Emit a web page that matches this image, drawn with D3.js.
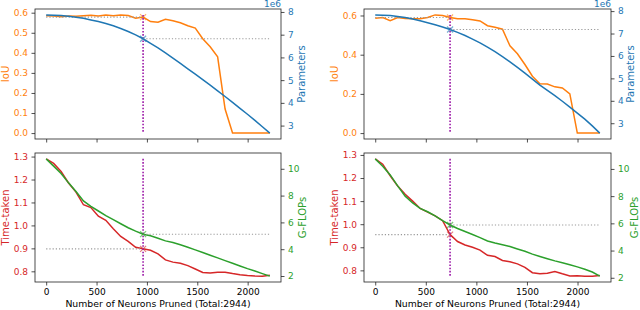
<!DOCTYPE html>
<html>
<head>
<meta charset="utf-8">
<script src="https://cdn.jsdelivr.net/npm/d3@7"></script>
<style>
  body { margin: 0; background: #fff; }
  svg { display: block; font-family: "DejaVu Sans", sans-serif; }
</style>
</head>
<body>
<div id="chart"></div>
<script>
// neurons pruned at each step (same for both runs)
var pruned = [0, 74, 148, 222, 296, 370, 444, 518, 592, 666, 740, 814, 888, 962, 1036, 1110,
  1184, 1258, 1332, 1406, 1480, 1554, 1628, 1702, 1776, 1850, 1924, 1998, 2072, 2146, 2220];

// run A (left column), chosen point at index 13
var iouA = [0.585, 0.583, 0.580, 0.584, 0.582, 0.585, 0.587, 0.584, 0.588, 0.585, 0.589, 0.586, 0.572,
  0.578, 0.556, 0.553, 0.567, 0.560, 0.550, 0.535, 0.523, 0.470, 0.430, 0.380, 0.120, 0.0, 0.0, 0.0, 0.0, 0.0, 0.0];
var paramsA = [7.87, 7.86, 7.84, 7.81, 7.77, 7.72, 7.65, 7.58, 7.49, 7.39, 7.27, 7.14, 6.99, 6.82, 6.62,
  6.42, 6.20, 5.97, 5.74, 5.50, 5.26, 5.02, 4.78, 4.53, 4.28, 4.02, 3.76, 3.50, 3.23, 2.95, 2.67]; // x1e6
var timeA = [1.290, 1.270, 1.235, 1.185, 1.145, 1.090, 1.078, 1.040, 1.022, 0.985, 0.952, 0.930, 0.905,
  0.898, 0.892, 0.876, 0.850, 0.840, 0.835, 0.825, 0.810, 0.795, 0.793, 0.796, 0.796, 0.790, 0.785,
  0.782, 0.780, 0.779, 0.783];
var flopsA = [10.74, 10.2, 9.65, 8.95, 8.3, 7.6, 7.2, 6.85, 6.5, 6.2, 5.9, 5.6, 5.35, 5.12, 5.0, 4.82,
  4.62, 4.5, 4.33, 4.15, 3.95, 3.75, 3.55, 3.35, 3.15, 2.95, 2.75, 2.55, 2.37, 2.18, 1.99];

// run B (right column), chosen point at index 10
var iouB = [0.586, 0.590, 0.574, 0.590, 0.585, 0.583, 0.583, 0.590, 0.603, 0.600, 0.590, 0.583, 0.583,
  0.578, 0.572, 0.548, 0.540, 0.530, 0.445, 0.405, 0.350, 0.290, 0.252, 0.250, 0.236, 0.230, 0.200,
  0.0, 0.0, 0.0, 0.0];
var paramsB = [7.83, 7.82, 7.80, 7.76, 7.71, 7.65, 7.57, 7.48, 7.39, 7.29, 7.18, 7.05, 6.91, 6.75, 6.58,
  6.39, 6.19, 5.97, 5.74, 5.49, 5.23, 4.97, 4.70, 4.46, 4.23, 3.98, 3.72, 3.45, 3.18, 2.88, 2.56];
var timeB = [1.283, 1.260, 1.210, 1.165, 1.130, 1.100, 1.068, 1.052, 1.036, 1.015, 0.955, 0.925, 0.910,
  0.900, 0.888, 0.865, 0.860, 0.843, 0.837, 0.828, 0.813, 0.790, 0.785, 0.788, 0.795, 0.785, 0.776,
  0.777, 0.775, 0.775, 0.778];
var flopsB = [10.74, 10.2, 9.56, 8.75, 8.0, 7.5, 7.1, 6.85, 6.55, 6.2, 5.88, 5.62, 5.4, 5.18, 4.95, 4.7,
  4.55, 4.43, 4.3, 4.12, 3.95, 3.74, 3.57, 3.4, 3.24, 3.1, 2.95, 2.8, 2.63, 2.42, 2.12];

var xTicks = [0, 500, 1000, 1500, 2000];
var iouTicksA = [0, 0.1, 0.2, 0.3, 0.4, 0.5, 0.6];
var iouTicksB = [0, 0.2, 0.4, 0.6];
var paramTicks = [3, 4, 5, 6, 7, 8];
var timeTicks = [0.8, 0.9, 1.0, 1.1, 1.2, 1.3];
var flopTicks = [2, 4, 6, 8, 10];

var width = 640, height = 310;
var orange = "#ff7f0e", blue = "#1f77b4", red = "#d62728", green = "#2ca02c";

var svg = d3.select("#chart").append("svg")
    .attr("width", width)
    .attr("height", height);

// matplotlib style 5% padding
function pad(ext) {
  var m = (ext[1] - ext[0]) * 0.05;
  return [ext[0] - m, ext[1] + m];
}

function panel(c) {
  var g = svg.append("g");
  var x = d3.scaleLinear().domain(pad(d3.extent(pruned))).range([c.x0, c.x1]);
  var yL = d3.scaleLinear().domain(pad(d3.extent(c.left))).range([c.y1, c.y0]);
  var yR = d3.scaleLinear().domain(pad(d3.extent(c.right))).range([c.y1, c.y0]);
  var k = c.cut, xc = pruned[k], xmax = d3.max(pruned);

  // axes
  g.append("g")
      .attr("transform", "translate(0," + c.y1 + ")")
      .call(d3.axisBottom(x).tickValues(xTicks).tickSize(3.5).tickSizeOuter(0).tickPadding(3)
        .tickFormat(c.xLabels ? d3.format("d") : ""));
  var al = g.append("g")
      .attr("transform", "translate(" + c.x0 + ",0)")
      .call(d3.axisLeft(yL).tickValues(c.leftTicks).tickSize(3.5).tickSizeOuter(0).tickPadding(3.5)
        .tickFormat(d3.format(".1f")));
  al.selectAll("text").attr("fill", c.leftColor);
  var ar = g.append("g")
      .attr("transform", "translate(" + c.x1 + ",0)")
      .call(d3.axisRight(yR).tickValues(c.rightTicks).tickSize(3.5).tickSizeOuter(0).tickPadding(3.5)
        .tickFormat(d3.format("d")));
  ar.selectAll("text").attr("fill", c.rightColor);
  g.selectAll(".domain").remove();
  g.selectAll(".tick text").attr("font-size", 9).attr("font-family", "DejaVu Sans");
  g.selectAll(".tick line").attr("stroke", "#222").attr("stroke-width", 0.8);

  // left series
  var lineL = d3.line().x((d, i) => x(pruned[i])).y(d => yL(d));
  g.append("path").datum(c.left)
      .attr("d", lineL).attr("fill", "none")
      .attr("stroke", c.leftColor).attr("stroke-width", 1.5);
  g.append("line")
      .attr("x1", x(0)).attr("x2", x(xc))
      .attr("y1", yL(c.left[k])).attr("y2", yL(c.left[k]))
      .attr("stroke", "#999").attr("stroke-width", 1.1).attr("stroke-dasharray", "1.2,2");
  marker(g, x(xc), yL(c.left[k]), c.leftColor);
  g.append("line")
      .attr("x1", x(xc)).attr("x2", x(xc))
      .attr("y1", yL(d3.max(c.left))).attr("y2", yL(d3.min(c.left)))
      .attr("stroke", "#9c1aa8").attr("stroke-width", 1.6).attr("stroke-dasharray", "1.6,1.6");

  // right (twin) series on top
  var lineR = d3.line().x((d, i) => x(pruned[i])).y(d => yR(d));
  g.append("path").datum(c.right)
      .attr("d", lineR).attr("fill", "none")
      .attr("stroke", c.rightColor).attr("stroke-width", 1.5);
  g.append("line")
      .attr("x1", x(xc)).attr("x2", x(xmax))
      .attr("y1", yR(c.right[k])).attr("y2", yR(c.right[k]))
      .attr("stroke", "#999").attr("stroke-width", 1.1).attr("stroke-dasharray", "1.2,2");
  marker(g, x(xc), yR(c.right[k]), c.rightColor);

  // frame
  g.append("rect")
      .attr("x", c.x0).attr("y", c.y0)
      .attr("width", c.x1 - c.x0).attr("height", c.y1 - c.y0)
      .attr("fill", "none").attr("stroke", "#222").attr("stroke-width", 0.8);

  // axis titles
  g.append("text")
      .attr("transform", "translate(" + (c.x0 - 26) + "," + ((c.y0 + c.y1) / 2) + ") rotate(-90)")
      .attr("text-anchor", "middle").attr("font-size", 10).attr("fill", c.leftColor)
      .text(c.leftTitle);
  g.append("text")
      .attr("transform", "translate(" + (c.x1 + c.rightOff) + "," + ((c.y0 + c.y1) / 2) + ") rotate(-90)")
      .attr("text-anchor", "middle").attr("font-size", 10).attr("fill", c.rightColor)
      .text(c.rightTitle);
  if (c.offset) {
    g.append("text")
        .attr("x", c.x1).attr("y", c.y0 - 2)
        .attr("text-anchor", "end").attr("font-size", 9).attr("fill", c.rightColor)
        .text(c.offset);
  }
  if (c.xLabels) {
    g.append("text")
        .attr("x", (c.x0 + c.x1) / 2).attr("y", c.y1 + 24.5)
        .attr("text-anchor", "middle").attr("font-size", 9.3).attr("fill", "#000")
        .text("Number of Neurons Pruned (Total:2944)");
  }
}

function marker(g, cx, cy, col) {
  var s = 3;
  g.append("path")
      .attr("d", "M" + (cx - s) + "," + (cy - s) + "L" + (cx + s) + "," + (cy + s) +
                 "M" + (cx - s) + "," + (cy + s) + "L" + (cx + s) + "," + (cy - s))
      .attr("stroke", col).attr("stroke-width", 1.2).attr("opacity", 0.6);
}

panel({x0: 35, x1: 281, y0: 9, y1: 139, cut: 13, left: iouA, right: paramsA,
  leftTicks: iouTicksA, rightTicks: paramTicks, leftColor: orange, rightColor: blue,
  leftTitle: "IoU", rightTitle: "Parameters", rightOff: 24, offset: "1e6", xLabels: false});
panel({x0: 35, x1: 281, y0: 153, y1: 282, cut: 13, left: timeA, right: flopsA,
  leftTicks: timeTicks, rightTicks: flopTicks, leftColor: red, rightColor: green,
  leftTitle: "Time-taken", rightTitle: "G-FLOPs", rightOff: 25, xLabels: true});
panel({x0: 364, x1: 611, y0: 9, y1: 139, cut: 10, left: iouB, right: paramsB,
  leftTicks: iouTicksB, rightTicks: paramTicks, leftColor: orange, rightColor: blue,
  leftTitle: "IoU", rightTitle: "Parameters", rightOff: 23, offset: "1e6", xLabels: false});
panel({x0: 364, x1: 611, y0: 153, y1: 282, cut: 10, left: timeB, right: flopsB,
  leftTicks: timeTicks, rightTicks: flopTicks, leftColor: red, rightColor: green,
  leftTitle: "Time-taken", rightTitle: "G-FLOPs", rightOff: 27, xLabels: true});
</script>
</body>
</html>
